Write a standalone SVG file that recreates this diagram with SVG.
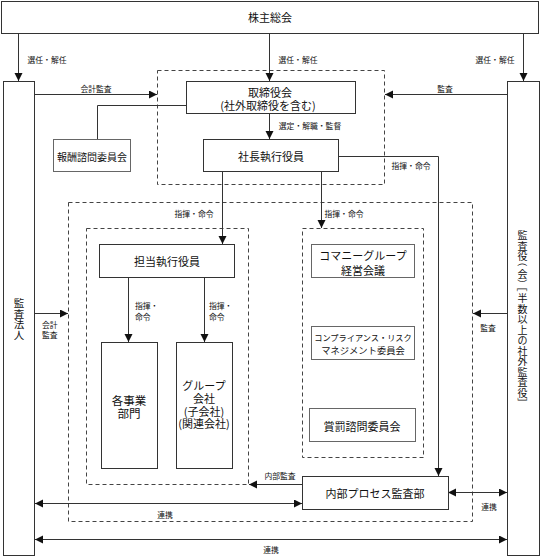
<svg xmlns="http://www.w3.org/2000/svg" width="541" height="558" viewBox="0 0 541 558">
<style>
text{font-family:"Noto Sans CJK JP","Noto Sans CJK SC",sans-serif;fill:#111;text-anchor:middle;dominant-baseline:central}
.box{fill:#fff;stroke:#333;stroke-width:1}
.gbox{fill:#fff;stroke:#666;stroke-width:1}
.grp{fill:none;stroke:#444;stroke-width:1;stroke-dasharray:4 3}
.n{font-size:11px}
.s{font-size:7.8px}
.ln{fill:none;stroke:#333;stroke-width:1}
.a{marker-end:url(#ah)}
.b{marker-start:url(#ah);marker-end:url(#ah)}
.vt{text-anchor:start}
</style>
<defs>
<marker id="ah" markerUnits="userSpaceOnUse" markerWidth="9" markerHeight="9" refX="8" refY="4" orient="auto-start-reverse">
<path d="M0,0 L8,4 L0,8 z" fill="#111"/>
</marker>
</defs>
<rect width="541" height="558" fill="#fff"/>

<g id="groups">
<rect id="board-group" class="grp" x="157.5" y="70.5" width="227" height="114"/>
<rect id="exec-group" class="grp" x="68.5" y="202.5" width="404" height="319"/>
<rect id="line-group" class="grp" x="86.5" y="228.5" width="162" height="256"/>
<rect id="committee-group" class="grp" x="302.5" y="228.5" width="121" height="229"/>
</g>

<g id="connectors">
<line class="ln a" x1="18.5" y1="34" x2="18.5" y2="81"/>
<line class="ln a" x1="269.5" y1="34" x2="269.5" y2="81"/>
<line class="ln a" x1="523.5" y1="34" x2="523.5" y2="81"/>
<line class="ln a" x1="35" y1="94.5" x2="157" y2="94.5"/>
<line class="ln a" x1="507" y1="94.5" x2="385" y2="94.5"/>
<polyline class="ln" points="97.5,139 97.5,105.5 186,105.5"/>
<line class="ln a" x1="269.5" y1="114" x2="269.5" y2="139"/>
<polyline class="ln a" points="339,156.5 438.5,156.5 438.5,476"/>
<line class="ln a" x1="222.5" y1="172" x2="222.5" y2="244"/>
<line class="ln a" x1="321.5" y1="172" x2="321.5" y2="228"/>
<line class="ln a" x1="128.5" y1="278" x2="128.5" y2="342"/>
<line class="ln a" x1="204.5" y1="278" x2="204.5" y2="342"/>
<line class="ln a" x1="35" y1="313.5" x2="68" y2="313.5"/>
<line class="ln a" x1="507" y1="313.5" x2="473" y2="313.5"/>
<line class="ln a" x1="302" y1="484.5" x2="249" y2="484.5"/>
<line class="ln b" x1="35" y1="503.5" x2="302" y2="503.5"/>
<line class="ln b" x1="448" y1="492.5" x2="507" y2="492.5"/>
<line class="ln b" x1="35" y1="539.5" x2="507" y2="539.5"/>
</g>

<g id="labels">
<text class="s" x="47" y="59">選任・解任</text>
<text class="s" x="298" y="59">選任・解任</text>
<text class="s" x="495" y="59">選任・解任</text>
<text class="s" x="96" y="88">会計監査</text>
<text class="s" x="445" y="88">監査</text>
<text class="s" x="310" y="125">選定・解職・監督</text>
<text class="s" x="411" y="165">指揮・命令</text>
<text class="s" x="194" y="213">指揮・命令</text>
<text class="s" x="344" y="213">指揮・命令</text>
<text class="s" x="135" y="305" style="text-anchor:start">指揮・</text>
<text class="s" x="135" y="316" style="text-anchor:start">命令</text>
<text class="s" x="209" y="305" style="text-anchor:start">指揮・</text>
<text class="s" x="209" y="316" style="text-anchor:start">命令</text>
<text class="s" x="42" y="324" style="text-anchor:start">会計</text>
<text class="s" x="42" y="334" style="text-anchor:start">監査</text>
<text class="s" x="488" y="327">監査</text>
<text class="s" x="280" y="475">内部監査</text>
<text class="s" x="165" y="514">連携</text>
<text class="s" x="271" y="549">連携</text>
<text class="s" x="489" y="506">連携</text>
</g>

<g id="shareholders">
<rect class="box" x="1.5" y="1.5" width="537" height="32"/>
<text class="n" x="270" y="17">株主総会</text>
</g>

<g id="auditor-firm">
<rect class="box" x="3.5" y="81.5" width="31" height="474"/>
<text class="vt" style="font-size:10.5px"><tspan x="13.75" y="302">監</tspan><tspan x="13.75" y="312.5">査</tspan><tspan x="13.75" y="323">法</tspan><tspan x="13.75" y="333.5">人</tspan></text>
</g>

<g id="auditors">
<rect class="box" x="507.5" y="81.5" width="32" height="474"/>
<text class="vt" style="font-size:10px"><tspan x="517.5" y="234.25">監</tspan><tspan x="517.5" y="244.75">査</tspan><tspan x="517.5" y="255.25">役</tspan><tspan x="518.7" y="252.1" rotate="90">（</tspan><tspan x="517.5" y="272.75">会</tspan><tspan x="518.7" y="274.6" rotate="90">）</tspan><tspan x="518.7" y="277.1" rotate="90">［</tspan><tspan x="517.5" y="297.25">半</tspan><tspan x="517.5" y="307.75">数</tspan><tspan x="517.5" y="318.25">以</tspan><tspan x="517.5" y="328.75">上</tspan><tspan x="517.5" y="339.25">の</tspan><tspan x="517.5" y="349.75">社</tspan><tspan x="517.5" y="360.25">外</tspan><tspan x="517.5" y="370.75">監</tspan><tspan x="517.5" y="381.25">査</tspan><tspan x="517.5" y="391.75">役</tspan><tspan x="518.7" y="393.1" rotate="90">］</tspan></text>
</g>

<g id="board">
<rect class="box" x="186.5" y="81.5" width="169" height="32"/>
<text class="n" x="270" y="92">取締役会</text>
<text class="n" x="268" y="105">(社外取締役を含む)</text>
</g>

<g id="compensation">
<rect class="gbox" x="53.5" y="139.5" width="77" height="32"/>
<text x="92" y="156" style="font-size:10px">報酬諮問委員会</text>
</g>

<g id="president">
<rect class="box" x="203.5" y="139.5" width="135" height="32"/>
<text class="n" x="271" y="156">社長執行役員</text>
</g>

<g id="officers">
<rect class="box" x="99.5" y="244.5" width="135" height="33"/>
<text class="n" x="167" y="261">担当執行役員</text>
</g>

<g id="divisions">
<rect class="box" x="101.5" y="342.5" width="56" height="126"/>
<text x="129" y="400" style="font-size:11.5px">各事業</text>
<text x="129" y="413" style="font-size:11.5px">部門</text>
</g>

<g id="group-companies">
<rect class="box" x="176.5" y="342.5" width="56" height="126"/>
<text class="n" x="204" y="385">グループ</text>
<text class="n" x="204" y="398">会社</text>
<text class="n" x="204" y="411">(子会社)</text>
<text class="n" x="204" y="423">(関連会社)</text>
</g>

<g id="group-management">
<rect class="gbox" x="311.5" y="244.5" width="103" height="33"/>
<text class="n" x="363" y="255">コマニーグループ</text>
<text class="n" x="363" y="270">経営会議</text>
</g>

<g id="compliance">
<rect class="gbox" x="311.5" y="326.5" width="103" height="33"/>
<text x="363" y="337" style="font-size:8.2px">コンプライアンス・リスク</text>
<text x="363" y="350" style="font-size:9.3px">マネジメント委員会</text>
</g>

<g id="rewards">
<rect class="gbox" x="309.5" y="408.5" width="106" height="33"/>
<text class="n" x="362" y="426">賞罰諮問委員会</text>
</g>

<g id="internal-audit">
<rect class="box" x="302.5" y="476.5" width="146" height="33"/>
<text class="n" x="375" y="493">内部プロセス監査部</text>
</g>
</svg>
